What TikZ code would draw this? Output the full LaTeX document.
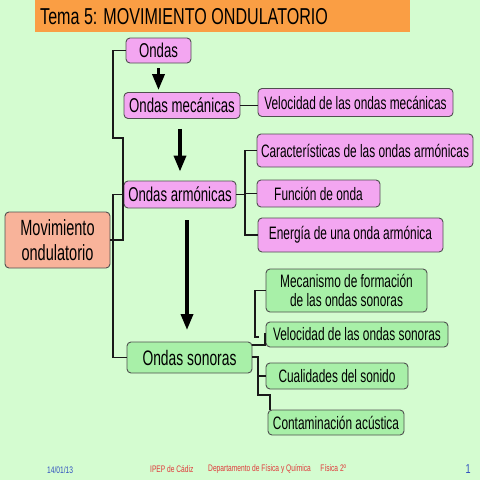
\documentclass[tikz,border=0pt]{standalone}
\usepackage{fontspec}
\setmainfont{Liberation Sans}[FakeStretch=0.66]
\newfontfamily\wfont{Liberation Sans}[FakeStretch=0.7]
\usetikzlibrary{arrows.meta}
\definecolor{bgc}{HTML}{D4FCD0}
\definecolor{titlec}{HTML}{FA9E44}
\definecolor{pinkc}{HTML}{F3A6F1}
\definecolor{greenc}{HTML}{A8F0A8}
\definecolor{salmonc}{HTML}{F8B39A}
\definecolor{edgec}{HTML}{505050}
\definecolor{redc}{HTML}{E03A3A}
\definecolor{bluec}{HTML}{2F4FBF}
\begin{document}
\begin{tikzpicture}[x=1pt,y=-1pt,
  boxbase/.style={draw=edgec, line width=0.9pt, rounded corners=4pt, inner sep=0pt, align=center, text=black},
  pinkbox/.style={boxbase, fill=pinkc},
  greenbox/.style={boxbase, fill=greenc},
  salmonbox/.style={boxbase, fill=salmonc},
  txtm/.style={font=\fontsize{18}{19}\selectfont},
  txtl/.style={font=\fontsize{20}{22}\selectfont},
  conn/.style={draw=black!90, line width=1.8pt},
  bigarrow/.style={draw=black, line width=3.5pt, -{Triangle[width=12pt,length=16pt]}}
]
\useasboundingbox (0,0) rectangle (480,480);
\fill[bgc] (0,0) rectangle (480,480);
% title
\fill[titlec] (35,0) rectangle (410,32);
\node[anchor=west, inner sep=0pt, font=\wfont\fontsize{23}{25}\selectfont] (title) at (40,17) {Tema 5: MOVIMIENTO ONDULATORIO};

% boxes
\node[pinkbox, txtl, minimum width=65, minimum height=25] (ondas) at (158.5,50.5) {Ondas};
\node[pinkbox, txtl, minimum width=116, minimum height=26] (mec) at (182,105.5) {Ondas mecánicas};
\node[pinkbox, txtm, minimum width=195, minimum height=28] (velmec) at (355.5,102.5) {Velocidad de las ondas mecánicas};
\node[pinkbox, txtl, minimum width=112, minimum height=27] (arm) at (180,194.5) {Ondas armónicas};
\node[pinkbox, txtm, minimum width=216, minimum height=33] (car) at (365,150.5) {Características de las ondas armónicas};
\node[pinkbox, txtm, minimum width=123, minimum height=27] (fun) at (318.5,193.5) {Función de onda};
\node[pinkbox, txtm, minimum width=185, minimum height=34] (ene) at (350.5,235) {Energía de una onda armónica};
\node[salmonbox, font=\fontsize{22}{25}\selectfont, minimum width=105, minimum height=56] (mov) at (57.5,240) {Movimiento\\ondulatorio};
\node[greenbox, font=\fontsize{18}{19.5}\selectfont, minimum width=161, minimum height=43] (mecan) at (346.5,290.5) {Mecanismo de formación\\de las ondas sonoras};
\node[greenbox, txtm, minimum width=182, minimum height=25] (velson) at (357,334.5) {Velocidad de las ondas sonoras};
\node[greenbox, font=\fontsize{21}{23}\selectfont, minimum width=125, minimum height=31] (son) at (189.5,357.5) {Ondas sonoras};
\node[greenbox, txtm, minimum width=142, minimum height=26] (cual) at (337,376) {Cualidades del sonido};
\node[greenbox, txtm, minimum width=136, minimum height=25] (cont) at (336,422.5) {Contaminación acústica};

% left tree
\coordinate (t1) at (123,240);
\coordinate (t2) at (113,138);
\draw[conn] (mov.east) -- (t1) |- (t2) |- (ondas.west);
\coordinate (t3) at (113,194.5);
\draw[conn] (arm.west) -- (t3) |- (son.west);

% ondas mecanicas
\draw[conn] (mec.east) -- (mec.east -| velmec.west);

% ondas armonicas
\coordinate (ah) at (245,194.5);
\draw[conn] (arm.east) -- (ah);
\draw[conn] (car.west) -| (ah) |- (ene.west);
\draw[conn] (ah |- fun.west) -- (fun.west);

% ondas sonoras
\coordinate (j2) at (255,337);
\coordinate (j3) at (259,337);
\draw[conn] (mecan.west) -| (j2) -- (j3);
\coordinate (k1) at (252,345);
\coordinate (k2) at (265,345);
\coordinate (k3) at (265,333);
\draw[conn] (k1) -- (k2) -- (k3);
\coordinate (m1) at (252,357);
\coordinate (m2) at (258,395);
\coordinate (m3) at (270,410);
\draw[conn] (m1) -| (m2) -| (m3);
\draw[conn] (m2 |- cual.west) -- (cual.west);

% big arrows
\draw[bigarrow, shorten <=5pt, shorten >=2pt] (ondas.south) -- (ondas.south |- mec.north);
\draw[bigarrow, shorten <=10pt, shorten >=9pt] (mec.south -| arm.north) -- (arm.north);
\coordinate (a3s) at (187,220);
\coordinate (a3e) at (187,330);
\draw[bigarrow] (a3s) -- (a3e);

% footer
\node[anchor=west, inner sep=0pt, text=bluec, font=\wfont\fontsize{9.5}{11}\selectfont] (date) at (47,470) {14/01/13};
\node[anchor=west, inner sep=0pt, text=redc, font=\wfont\fontsize{9.5}{11}\selectfont] (ipep) at (150,469) {IPEP de Cádiz};
\node[anchor=west, inner sep=0pt, text=redc, font=\wfont\fontsize{9.5}{11}\selectfont] (dep) at (208,469) {Departamento de Física y Química\quad Física 2º};
\node[anchor=east, inner sep=0pt, text=bluec, font=\wfont\fontsize{13}{15}\selectfont] (pg) at (471,469) {1};
\end{tikzpicture}
\end{document}
